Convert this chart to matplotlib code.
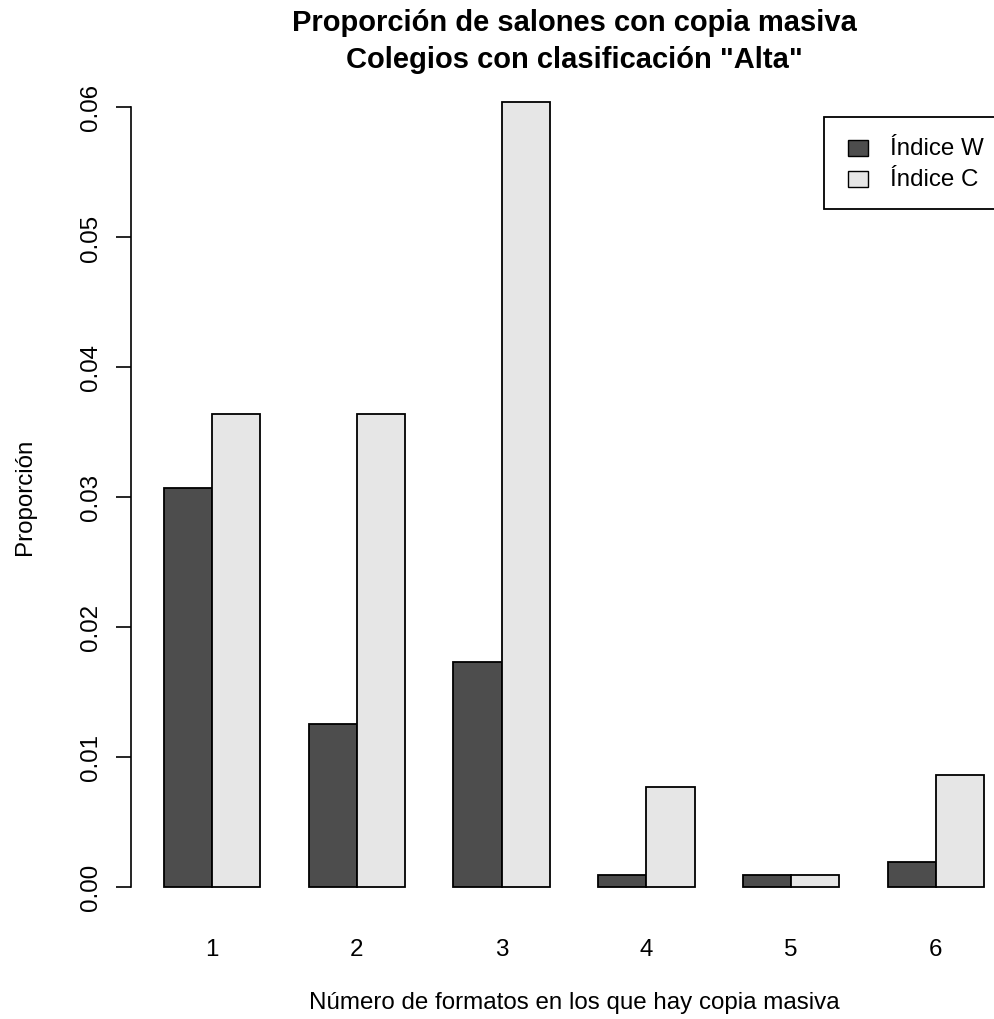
import matplotlib
matplotlib.use("Agg")
import matplotlib.pyplot as plt
from matplotlib.patches import Rectangle
import numpy as np

categories = ["1", "2", "3", "4", "5", "6"]
indice_w = [0.0307, 0.0125, 0.0173, 0.0009, 0.0009, 0.0019]
indice_c = [0.0364, 0.0364, 0.0604, 0.0077, 0.0009, 0.0086]
series_names = ["Índice W", "Índice C"]
colors = ["#4D4D4D", "#E6E6E6"]
yticks = [0.00, 0.01, 0.02, 0.03, 0.04, 0.05, 0.06]

plt.rcParams['font.family'] = ['Liberation Sans', 'DejaVu Sans']

W, H = 994, 1020
fig = plt.figure(figsize=(W / 100, H / 100), dpi=100)

def fx(px):
    return px / W

def fy(py):
    return 1 - py / H

left, right, top, bottom = 131, 1017, 71.4, 919.1
ax = fig.add_axes([fx(left), fy(bottom), fx(right) - fx(left), (bottom - top) / H])

n = len(categories)
x_w = np.array([1 + 3 * i for i in range(n)])
x_c = x_w + 1
ax.bar(x_w, indice_w, width=1, align='edge', color=colors[0], edgecolor='black', linewidth=1.3)
ax.bar(x_c, indice_c, width=1, align='edge', color=colors[1], edgecolor='black', linewidth=1.3)

ymax = max(max(indice_w), max(indice_c))
ax.set_xlim(0.32, 18.68)
ax.set_ylim(-0.04 * ymax, ymax * 1.04)

for s in ['top', 'right', 'bottom']:
    ax.spines[s].set_visible(False)
ax.spines['left'].set_bounds(yticks[0], yticks[-1])
ax.spines['left'].set_linewidth(1.2)

ax.set_yticks(yticks)
ax.set_yticklabels([f"{t:.2f}" for t in yticks], rotation=90, va='center', fontsize=17.4)
ax.tick_params(axis='y', length=11, width=1.2, pad=10)

ax.set_xticks(x_c)
ax.set_xticklabels(categories, fontsize=17.4)
ax.tick_params(axis='x', length=0, pad=14)

ax.patch.set_visible(False)

fig.text(fx(25), fy(497), "Proporción", rotation=90, ha='center', va='center', fontsize=17.4)
fig.text(fx(574), fy(1003), "Número de formatos en los que hay copia masiva", ha='center', va='center', fontsize=17.4)
fig.text(fx(574), fy(23), "Proporción de salones con copia masiva", ha='center', va='center', fontsize=21.0, fontweight='bold')
fig.text(fx(574), fy(60), "Colegios con clasificación \"Alta\"", ha='center', va='center', fontsize=21.0, fontweight='bold')

# legend box
fig.patches.append(Rectangle((fx(824), fy(210)), fx(1100) - fx(824), (210 - 118) / H,
                             transform=fig.transFigure, facecolor='white', edgecolor='black', linewidth=1.3, figure=fig))
for i, (name, col) in enumerate(zip(series_names, colors)):
    cy = 149 + 31 * i
    fig.patches.append(Rectangle((fx(848), fy(cy + 8)), 20 / W, 16 / H, transform=fig.transFigure,
                                 facecolor=col, edgecolor='black', linewidth=1.0, figure=fig))
    fig.text(fx(890), fy(cy), name, ha='left', va='center', fontsize=17.4)

fig.savefig("out.png", dpi=100)
